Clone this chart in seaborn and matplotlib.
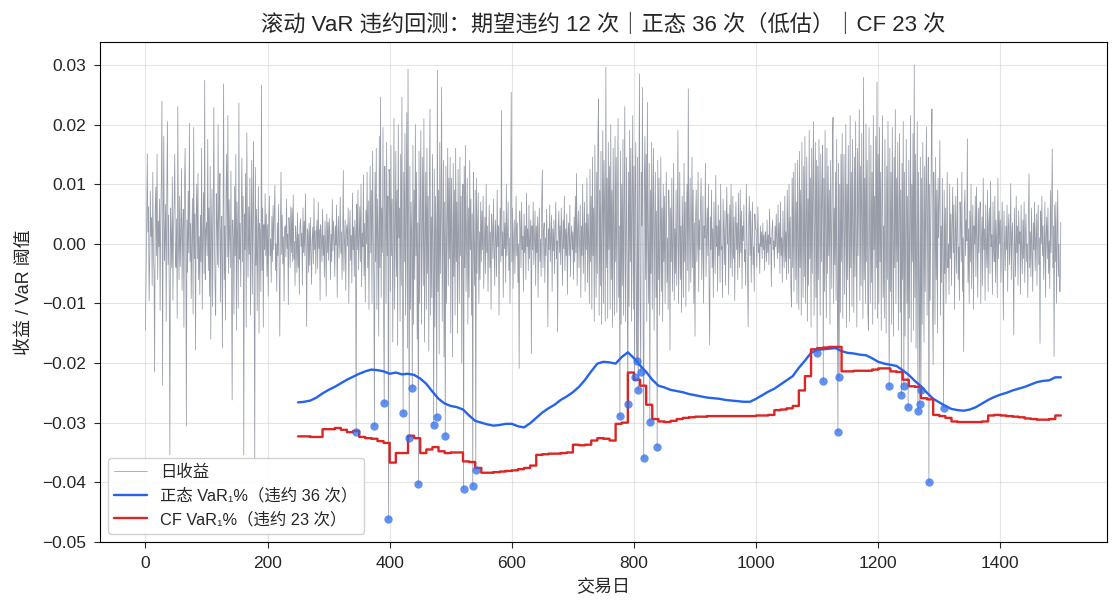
import numpy as np
import pandas as pd
import seaborn as sns
import matplotlib
matplotlib.use('Agg')
import matplotlib.pyplot as plt

# daily returns in units of 1e-4, 100 trading days per list
r0000 = [-145, -58, 35, 151, 20, 62, -96, -30, 88, 12,
         44, -70, 120, -15, -45, -215, 60, 95, -20, 150,
         -60, 38, -5, 75, -112, 40, 105, 239, -237, 25,
         180, -28, 10, 66, -130, 90, 205, -35, 48, -80,
         -354, 60, 15, -40, 112, -95, 28, 70, 150, -20,
         -40, 42, -125, 230, 5, -60, 80, -38, 18, 126,
         -78, 24, 58, -140, 96, 160, 35, -306, 40, -48,
         88, -15, 202, -30, 34, -92, 10, 76, -118, 195,
         -25, 50, -178, 40, 100, -25, 118, -60, 12, -85,
         48, -30, 160, -110, 4, 86, -50, 274, -60, 22]
r0100 = [36, -20, 175, -45, 60, -88, 130, -160, 18, 92,
         -105, 40, 228, 10, -70, -120, 84, 35, -35, 200,
         -40, 66, 118, -98, 22, 46, -175, 15, 268, -60,
         30, -128, 84, 150, -22, 215, -50, 74, 10, -40,
         122, -55, -262, 40, 8, -118, 96, -20, 150, -145,
         70, 12, -108, 236, -26, 34, -72, 58, 144, -30,
         80, -354, 50, -10, 118, -140, 186, 26, -56, 62,
         -18, 110, -120, 12, 140, -85, 44, 172, -70, -360,
         128, -36, 58, -112, 20, 96, -150, 34, 14, -80,
         266, -45, 60, -140, 32, -10, 84, -20, 50, -55]
r0200 = [32, -88, 40, 80, -20, 8, -65, 46, -30, 64,
         -10, 52, 98, -45, 0, -80, 35, -20, 66, -42,
         -155, 20, 120, -18, 48, -34, 12, -96, 25, 30,
         -22, 75, -8, 16, -102, 44, 20, -40, 62, -15,
         60, -30, 82, -26, 4, -70, 30, 8, -48, 52,
         -40, 16, -85, 30, 42, -5, 18, -70, 60, -15,
         38, -20, 84, -2, -139, 25, 20, -48, 34, -36,
         44, -12, -68, 6, 28, -34, 76, -10, 22, -50,
         18, 40, -42, 70, -8, 24, -95, 32, 6, -30,
         58, -20, 14, -56, 38, 4, -88, 50, -15, 36]
r0300 = [-28, 42, 20, -60, 16, -30, 74, -12, 38, 10,
         -55, 30, -2, 65, -90, 12, 46, -24, 8, 78,
         -16, 20, -60, 8, 123, -46, 4, 40, -78, 20,
         32, -4, 60, -100, 16, 56, -28, 14, -66, 85,
         -10, 28, -55, 40, 12, -316, 66, -10, 90, -44,
         10, 62, -30, 100, -72, 18, -5, 115, -54, 34,
         -98, 56, 0, 120, -40, 72, -110, 28, 130, -15,
         90, -100, 155, 20, -60, -305, 120, -30, 160, -110,
         75, 10, -155, 180, -40, 246, -90, 60, -15, 195,
         -120, -267, 130, 35, -100, 170, -20, 80, -462, 125]
r0400 = [110, -80, 165, -20, 75, -165, 30, 210, -110, 20,
         155, -55, 90, -170, 200, 10, 60, -130, 150, -70,
         246, -90, -284, 120, -30, 185, -120, 40, 220, -175,
         293, -40, -326, 130, -110, 70, 15, -242, 165, -135,
         90, -60, 200, -20, 120, -160, 35, -403, 155, -100,
         60, 190, -135, 20, 145, -70, 210, -165, 5, 120,
         -110, 160, -50, 80, -180, 100, 226, -120, 45, -90,
         150, -20, -304, 125, -140, 80, 20, -290, 291, -80,
         90, -185, 170, -50, 60, 262, -130, 10, 140, -190,
         70, -322, 130, -100, 30, 160, -70, 110, -25, 145]
r0500 = [-150, 110, 20, -190, 135, -55, 90, -120, 160, -30,
         70, -150, 125, -5, -100, 145, -20, 80, -200, 50,
         100, -411, 130, -40, 165, -80, 20, 110, -135, 60,
         -90, 140, -10, 75, -120, 50, -406, 120, 5, -70,
         90, -379, 110, -50, 35, 85, -100, 20, -60, 70,
         -30, 55, -10, 80, -75, 0, 45, -50, 100, -15,
         30, -80, 5, 65, -40, 20, -110, 50, 20, -25,
         75, -10, -70, 40, 10, -55, 90, -5, 30, -120,
         5, 60, -30, 223, -20, 20, -90, 55, -8, 35,
         -65, 100, -20, 15, 70, -45, 10, -100, 48, 254]
r0600 = [-30, 60, -75, 10, 40, -50, 5, 80, -20, 35,
         -65, 0, -209, 55, 25, -40, 70, -10, 12, -80,
         50, -15, 30, -60, 85, -5, 25, -45, 65, -25,
         10, 40, -184, 30, -10, 70, -35, 5, 55, -70,
         30, -15, 45, -90, 15, 60, -30, 8, -55, 75,
         124, -40, 20, 35, -65, 10, -20, 58, -4, -139,
         25, -10, 65, -30, 6, 48, -80, 25, -12, 40,
         -50, 20, 70, -25, 5, -148, 30, 55, -15, 30,
         -35, 60, 10, -70, 40, -8, 80, -45, 25, -20,
         50, -85, 15, 35, -20, 65, -55, 5, 30, -10]
r0700 = [20, -60, 45, -30, 80, -15, 118, -70, 25, 55,
         -40, 10, 65, -90, 30, -20, 100, -50, 5, 70,
         -80, 35, -10, 110, -65, 50, 5, -100, 125, -30,
         80, -110, 145, -20, 60, -130, 165, 10, -90, 120,
         -50, 180, 243, -120, 90, -70, 155, -135, 30, 190,
         -100, 140, 60, -130, 296, -40, 110, -125, 170, -10,
         130, -110, 200, -60, 90, -140, 160, 15, -120, 180,
         -30, 145, -115, 70, 210, -90, 30, -289, 155, -135,
         100, -70, 175, -120, 50, 230, -130, 10, 145, -90,
         -269, 120, -105, 190, -30, 160, -130, 80, 215, -110]
r0800 = [130, -224, 90, 170, -120, -197, 145, -246, 60, 285,
         -90, -215, 120, 30, 262, -140, -360, 110, 180, -60,
         150, -130, 237, 10, -100, 135, -299, 90, -50, 170,
         -110, 70, 160, -145, 30, 120, -90, 55, -341, 140,
         -60, 110, -120, 0, 145, -80, 60, -130, 100, -30,
         80, -100, 30, 120, -65, 10, -110, 90, 45, -178,
         60, -30, 110, -80, 5, 135, -95, 25, -50, 90,
         -70, 40, 190, -100, -5, 120, -60, 30, -115, 80,
         15, -90, 135, -30, 70, -105, 50, 100, -45, 260,
         -80, 25, 110, -65, 0, 145, -40, 90, -100, 35]
r0900 = [-155, 50, 90, -30, 5, 120, -80, 40, -10, 65,
         110, -60, -5, 80, -100, 30, 10, 135, -55, 10,
         60, -20, 100, -70, -170, 45, -10, 90, -40, 25,
         -90, 70, 10, -50, 115, -5, 30, -80, 65, -20,
         40, -65, 100, -10, -5, -90, 75, 20, -35, 55,
         -70, 30, 95, 0, 50, -85, 10, 65, -40, 100,
         -10, -55, 80, -25, 45, -95, 20, 70, -10, 35,
         -60, 85, 0, -40, 90, -15, 55, -75, 30, 5,
         65, -30, -10, -70, 100, 15, -50, -139, 40, 80,
         -20, 55, -65, 10, 70, -35, -5, -80, 50, 25]
r1000 = [25, -40, 10, 62, -15, 0, -50, 30, -5, 20,
         -25, 35, -10, 15, -45, 20, 5, -30, 40, -15,
         15, -35, 58, 0, 10, -72, 20, 40, -10, 5,
         -40, 30, -5, 50, 0, -25, 65, -15, 35, -50,
         70, -20, 10, -65, 55, -5, -40, 80, -30, 20,
         -60, 90, 15, -50, 100, -25, 45, -75, -106, 110,
         -40, 120, -80, 25, 135, -60, 70, -100, 140, 0,
         -110, 155, -40, 90, -120, 170, 10, -90, 130, -55,
         180, -100, 40, 145, -130, 75, -70, 190, -25, 110,
         -140, 160, -50, 100, 205, -120, 20, 170, -90, 140]
r1100 = [-184, 130, -60, 175, 30, -120, 150, -30, 95, 165,
         -230, 110, -80, 190, 10, -125, 160, -50, 130, -20,
         90, -135, 140, 20, -75, 170, 212, -100, 60, -35,
         120, -95, 175, -60, -315, 135, -224, 100, -115, 150,
         -30, 185, -125, 70, 150, -85, 25, 200, -140, 100,
         -60, 165, 10, -130, 215, -40, 120, -105, 175, 30,
         -115, 145, -55, 205, -5, -140, 160, -20, 90, 225,
         -95, 130, -70, 185, 20, -125, 279, -60, 110, -100,
         201, -30, 140, -115, -145, 195, 5, -100, 165, -65,
         120, -135, 215, -10, 80, -110, 180, -40, 271, -125]
r1200 = [150, -100, 195, -30, 120, -145, 60, 215, -90, 30,
         -125, 175, 10, -150, 130, -60, 205, -10, -238, 160,
         -80, 120, -135, 195, 0, -155, 145, -40, 225, -100,
         110, -30, 170, -145, 50, 185, -115, 90, -254, 135,
         -60, 205, -238, 120, -155, 30, 175, -100, 80, -274,
         140, -125, 60, 215, -165, 100, -30, 185, -145, 300,
         -90, 150, -175, 30, 205, -280, 120, -60, -268, 145,
         -245, 110, -135, 170, 20, -165, 130, -80, 90, 196,
         -120, 60, 145, -400, 100, -95, 30, 160, 226, -110,
         -203, 120, 50, -135, 145, -60, 90, -150, 110, 10]
r1300 = [80, 173, -120, 30, -65, 110, -10, -275, 90, -50,
         60, -100, 15, 120, -40, 0, -85, 100, -25, 50,
         -70, 30, 95, -15, 65, -110, 5, 80, -50, 20,
         110, -60, -5, -95, 70, 35, -30, 120, -80, 10,
         -181, 60, 90, -20, 40, 5, 176, -65, 25, -100,
         55, -30, 100, -75, 10, 65, -110, 30, 0, 80,
         -55, 95, -5, -90, 60, -15, 35, 70, -100, 5,
         45, -70, 110, -10, 25, -95, 65, -5, -40, 90,
         -80, 30, 60, -50, 105, -5, 15, -85, 70, -10,
         -30, 80, -65, 40, 0, -90, 110, -25, 55, 0]
r1400 = [40, -65, 10, 70, -30, -128, 55, -5, -45, 30,
         -10, 65, -80, 25, 50, -35, 0, 101, -60, 15,
         35, -40, -153, 60, -5, -55, 80, -15, 30, -70,
         55, 0, 20, -85, 65, -10, -50, 40, -25, 70,
         -65, 10, 50, -30, 0, -90, 45, 117, -40, 20,
         -55, 60, -10, -80, 35, -10, 70, -45, 5, 50,
         -70, 25, 65, -35, 10, -167, 55, 0, 80, -20,
         30, -60, -5, 70, -90, 15, 45, -25, 60, -50,
         5, -75, 90, -15, 50, 159, -40, 30, -189, 65,
         -30, 70, -100, 15, 90, -55, 0, -80, -80, 36]

# rolling 1% VaR (units of 1e-4), one value per 10-day block from day 250
var_norm_blk = [-266, -265, -263, -258, -251, -245, -240, -234, -228, -223,
                -218, -214, -211, -212, -214, -218, -216, -219, -218, -220,
                -226, -235, -248, -260, -268, -272, -274, -278, -288, -297,
                -300, -303, -305, -304, -302, -302, -306, -308, -301, -292,
                -283, -276, -270, -262, -256, -249, -240, -228, -214, -201,
                -198, -199, -201, -190, -182, -192, -204, -215, -228, -238,
                -241, -245, -247, -249, -252, -254, -256, -258, -259, -260,
                -262, -263, -264, -265, -265, -260, -254, -248, -243, -236,
                -229, -222, -208, -196, -183, -178, -177, -176, -175, -180,
                -183, -184, -186, -187, -192, -198, -201, -203, -205, -212,
                -220, -230, -239, -250, -260, -266, -272, -277, -279, -280,
                -278, -274, -268, -262, -257, -253, -250, -246, -243, -240,
                -236, -232, -230, -229, -224]
var_cf_blk = [-323, -323, -324, -324, -311, -311, -309, -312, -316, -314,
              -324, -326, -327, -331, -334, -367, -351, -351, -322, -326,
              -351, -345, -341, -348, -351, -350, -350, -365, -366, -376,
              -384, -384, -383, -382, -381, -380, -378, -376, -372, -354,
              -353, -352, -352, -351, -350, -337, -338, -337, -330, -326,
              -327, -330, -302, -300, -216, -228, -238, -270, -294, -298,
              -299, -297, -294, -292, -291, -290, -290, -289, -289, -289,
              -289, -289, -289, -289, -289, -288, -288, -287, -279, -278,
              -276, -272, -246, -222, -177, -175, -174, -173, -173, -214,
              -214, -213, -213, -213, -211, -209, -209, -214, -215, -228,
              -239, -240, -259, -261, -287, -289, -292, -298, -299, -299,
              -299, -299, -298, -288, -287, -288, -289, -290, -291, -293,
              -294, -295, -295, -294, -288]
var_start = 250

ret = np.array(r0000 + r0100 + r0200 + r0300 + r0400 + r0500 + r0600 + r0700
               + r0800 + r0900 + r1000 + r1100 + r1200 + r1300 + r1400) / 1e4
days = np.arange(len(ret))

# daily thresholds (each block value held for its 10 days)
var_days = np.arange(var_start, len(ret))
var_norm = np.repeat(var_norm_blk, 10)[:len(var_days)] / 1e4
var_cf = np.repeat(var_cf_blk, 10)[:len(var_days)] / 1e4

# normal VaR drawn through the block values, last value carried to the final day
knot_x = np.append(var_start + 10 * np.arange(len(var_norm_blk)), len(ret) - 1)
knot_norm = np.append(var_norm_blk, var_norm_blk[-1]) / 1e4

df = pd.DataFrame({'day': var_days, 'ret': ret[var_start:], 'norm': var_norm, 'cf': var_cf})
hit_norm = df[df['ret'] < df['norm']]
n_norm = len(hit_norm)
n_cf = int((df['ret'] < df['cf']).sum())
n_exp = int(0.01 * len(df))

sns.set_style('ticks')
plt.rcParams['font.family'] = ['Liberation Sans', 'Noto Sans CJK SC', 'DejaVu Sans']
plt.rcParams['axes.unicode_minus'] = True

fig, ax = plt.subplots(figsize=(11.2, 6.11), dpi=100)
fig.subplots_adjust(left=0.089, right=0.988, top=0.931, bottom=0.113)

sns.lineplot(x=days, y=ret, ax=ax, color='#979ca8', lw=0.55, label='日收益')
sns.lineplot(x=knot_x, y=knot_norm, ax=ax, color='#2563eb', lw=1.7,
             label=f'正态 VaR₁%（违约 {n_norm} 次）')
sns.lineplot(x=var_days, y=var_cf, ax=ax, color='#dc2626', lw=1.7,
             drawstyle='steps-post', label=f'CF VaR₁%（违约 {n_cf} 次）')
sns.scatterplot(x=hit_norm['day'], y=hit_norm['ret'], ax=ax, color='#2f6cec',
                alpha=0.75, s=36, linewidth=0, zorder=4)

ax.set_title(f'滚动 VaR 违约回测：期望违约 {n_exp} 次｜正态 {n_norm} 次（低估）｜CF {n_cf} 次',
             fontsize=16, pad=8)
ax.set_xlabel('交易日', fontsize=13, labelpad=6)
ax.set_ylabel('收益 / VaR 阈值', fontsize=13, labelpad=6)
ax.tick_params(labelsize=12.5, length=4, pad=6)
ax.grid(True, color='#cccccc', alpha=0.5, lw=0.8)
for s in ax.spines.values():
    s.set_visible(True)
    s.set_color('black')
ax.legend(loc='lower left', fontsize=11.8, framealpha=0.9)

fig.savefig('out.png', dpi=100)
